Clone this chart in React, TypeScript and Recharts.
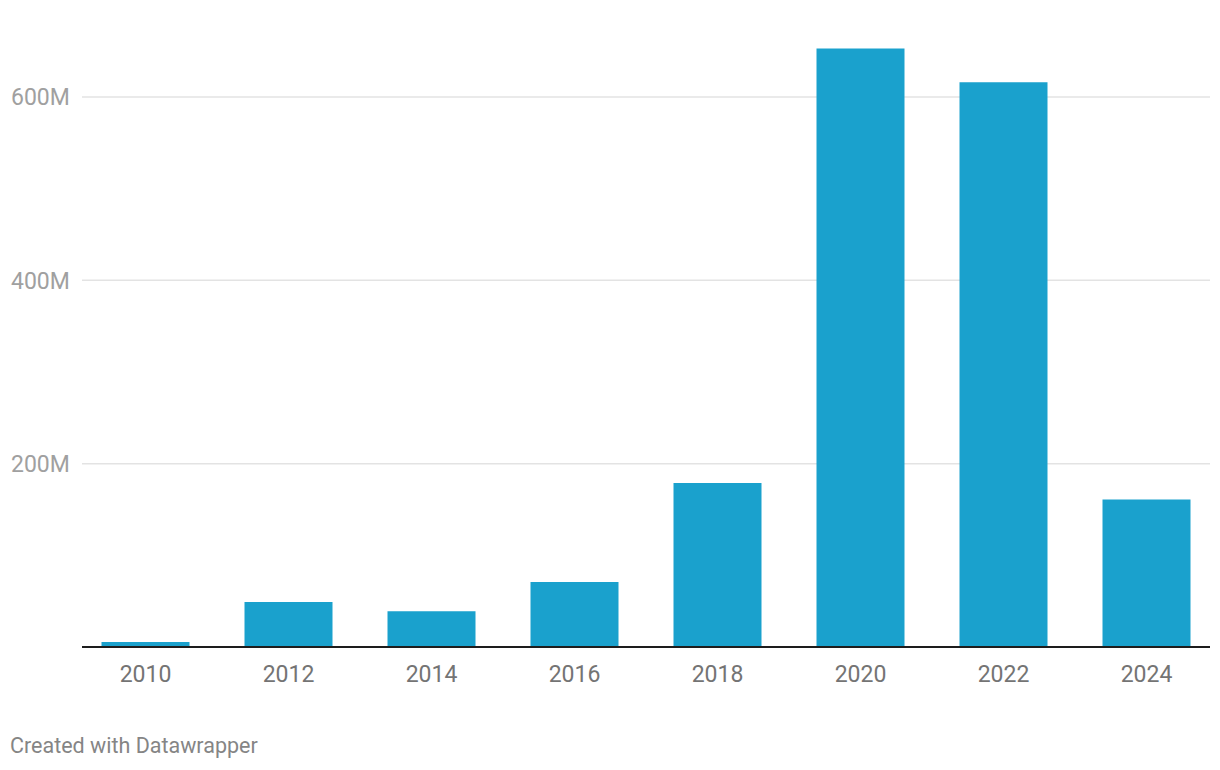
import { BarChart, Bar, XAxis, YAxis, CartesianGrid } from 'recharts';

const years = ['2010', '2012', '2014', '2016', '2018', '2020', '2022', '2024'];
const values = [5.5, 49, 39, 71, 179, 653, 616, 161]; // millions
const yTicks = [200, 400, 600];

const data = years.map((year, i) => ({ year, value: values[i] }));

const font = 'Roboto, "Noto Sans", sans-serif';

function YTick({ y, payload }: any) {
  return (
    <text x={11} y={y + 1} textAnchor="start" dominantBaseline="central" fill="#a0a0a0" fontSize={23} fontFamily={font}>
      {`${payload.value}M`}
    </text>
  );
}

function XTick({ x, y, payload }: any) {
  return (
    <text x={x} y={y + 19} textAnchor="middle" dominantBaseline="central" fill="#747474" fontSize={23} fontFamily={font}>
      {payload.value}
    </text>
  );
}

export default function App() {
  return (
    <div style={{ position: 'absolute', left: 0, top: 0, width: 1220, height: 770, background: '#fff' }}>
      <BarChart
        width={1220}
        height={700}
        data={data}
        margin={{ top: 5.33, right: 10, left: 0, bottom: 13 }}
        barCategoryGap={27.5}
      >
        <CartesianGrid vertical={false} horizontalValues={yTicks} stroke="#e3e3e3" strokeWidth={1.5} />
        <YAxis
          domain={[0, 700]}
          ticks={yTicks}
          width={82}
          axisLine={false}
          tickLine={false}
          tick={<YTick />}
        />
        <XAxis
          dataKey="year"
          height={40}
          padding={{ left: -8, right: -8 }}
          axisLine={{ stroke: '#1d1d1d', strokeWidth: 2 }}
          tickLine={false}
          tick={<XTick />}
          interval={0}
        />
        <Bar dataKey="value" fill="#1aa1cd" isAnimationActive={false} />
      </BarChart>
      <div style={{ position: 'absolute', left: 10, top: 733, fontFamily: font, fontSize: 21.5, color: '#858585' }}>
        Created with Datawrapper
      </div>
    </div>
  );
}
